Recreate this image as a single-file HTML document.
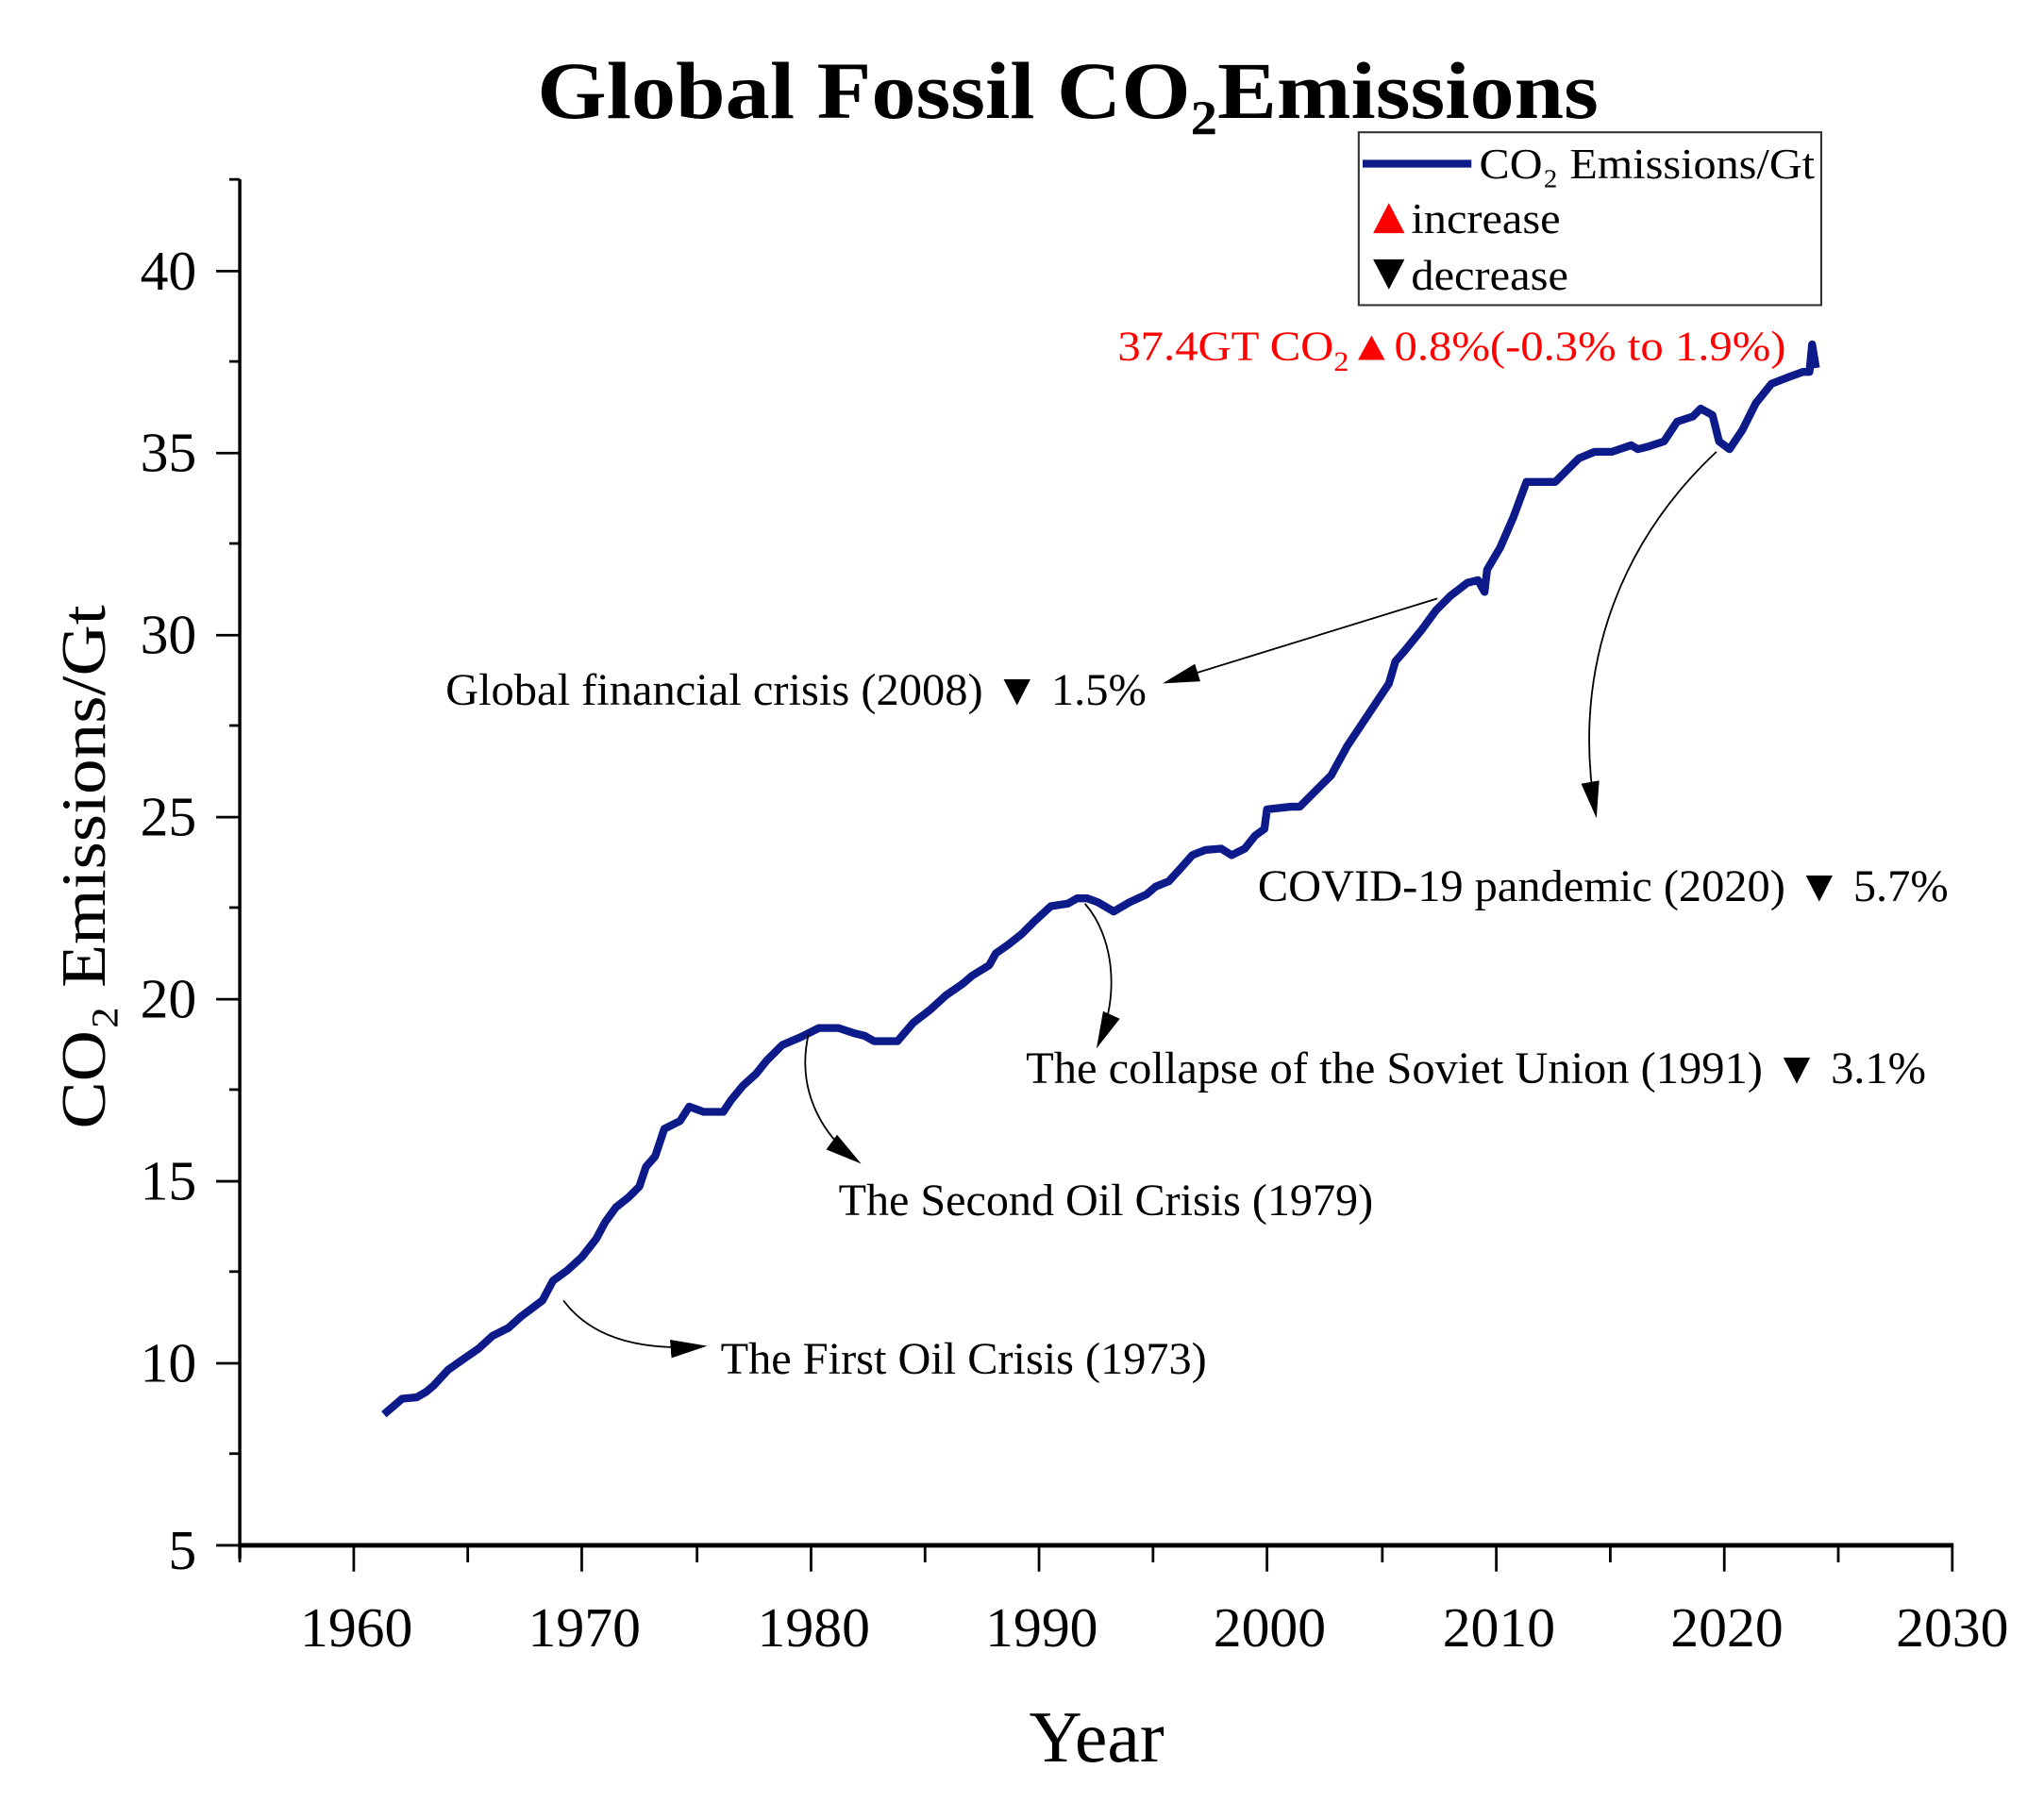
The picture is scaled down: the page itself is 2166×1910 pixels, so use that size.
<!DOCTYPE html>
<html><head><meta charset="utf-8"><style>html,body{margin:0;padding:0;background:#fff}svg{display:block}</style></head>
<body>
<svg width="2166" height="1910" viewBox="0 0 1560 1376" preserveAspectRatio="none" xmlns="http://www.w3.org/2000/svg" font-family="'Liberation Serif', serif">
<defs>
<marker id="ah2" viewBox="0 0 10 10" refX="9" refY="5" markerWidth="28" markerHeight="28" orient="auto" markerUnits="userSpaceOnUse"><path d="M0,2.5 L10,5 L0,7.5 z" fill="#000"/></marker>
</defs>
<rect width="1560" height="1376" fill="#fff"/>
<text x="815" y="90" text-anchor="middle" font-size="62" font-weight="bold" textLength="810" lengthAdjust="spacingAndGlyphs">Global Fossil CO₂Emissions</text>
<!-- axes -->
<line x1="183" y1="137" x2="183" y2="1190" stroke="#000" stroke-width="2.5"/>
<line x1="182" y1="1180" x2="1491" y2="1180" stroke="#000" stroke-width="3.5"/>
<g stroke="#000" stroke-width="2">
<line x1="165" y1="207" x2="183" y2="207"/><line x1="165" y1="346" x2="183" y2="346"/><line x1="165" y1="485" x2="183" y2="485"/><line x1="165" y1="624" x2="183" y2="624"/><line x1="165" y1="763" x2="183" y2="763"/><line x1="165" y1="902" x2="183" y2="902"/><line x1="165" y1="1041" x2="183" y2="1041"/><line x1="165" y1="1180" x2="183" y2="1180"/>
<line x1="175" y1="137" x2="183" y2="137"/><line x1="175" y1="276" x2="183" y2="276"/><line x1="175" y1="415" x2="183" y2="415"/><line x1="175" y1="554" x2="183" y2="554"/><line x1="175" y1="693" x2="183" y2="693"/><line x1="175" y1="832" x2="183" y2="832"/><line x1="175" y1="971" x2="183" y2="971"/><line x1="175" y1="1110" x2="183" y2="1110"/>
<line x1="270" y1="1180" x2="270" y2="1200"/><line x1="444" y1="1180" x2="444" y2="1200"/><line x1="619" y1="1180" x2="619" y2="1200"/><line x1="793" y1="1180" x2="793" y2="1200"/><line x1="967" y1="1180" x2="967" y2="1200"/><line x1="1142" y1="1180" x2="1142" y2="1200"/><line x1="1316" y1="1180" x2="1316" y2="1200"/><line x1="1490" y1="1180" x2="1490" y2="1200"/>
<line x1="183" y1="1180" x2="183" y2="1193"/><line x1="357" y1="1180" x2="357" y2="1193"/><line x1="532" y1="1180" x2="532" y2="1193"/><line x1="706" y1="1180" x2="706" y2="1193"/><line x1="880" y1="1180" x2="880" y2="1193"/><line x1="1055" y1="1180" x2="1055" y2="1193"/><line x1="1229" y1="1180" x2="1229" y2="1193"/><line x1="1403" y1="1180" x2="1403" y2="1193"/>
</g>
<g font-size="43" text-anchor="end">
<text x="150" y="221">40</text><text x="150" y="360">35</text><text x="150" y="499">30</text><text x="150" y="638">25</text><text x="150" y="777">20</text><text x="150" y="916">15</text><text x="150" y="1055">10</text><text x="150" y="1198">5</text>
</g>
<g font-size="43" text-anchor="middle">
<text x="272" y="1257">1960</text><text x="446" y="1257">1970</text><text x="621" y="1257">1980</text><text x="795" y="1257">1990</text><text x="969" y="1257">2000</text><text x="1144" y="1257">2010</text><text x="1318" y="1257">2020</text><text x="1490" y="1257">2030</text>
</g>
<text x="837" y="1345" text-anchor="middle" font-size="56">Year</text>
<text transform="translate(80,662) rotate(-90)" text-anchor="middle" font-size="48" textLength="400" lengthAdjust="spacingAndGlyphs">CO₂ Emissions/Gt</text>
<!-- data -->
<polyline fill="none" stroke="#0d1a8a" stroke-width="6" stroke-linejoin="round" points="293,1080 300,1074 307,1068 318,1067 325,1063 331,1058 342,1046 352,1039 365,1030 376,1020 388,1014 398,1005 414,993 422,978 433,970 444,960 455,946 462,933 470,922 480,914 488,906 493,891 500,883 507,862 519,856 526,845 537,849 552,849 558,840 567,829 577,820 585,810 597,798 611,792 625,785 640,785 652,789 660,791 667,795 685,795 697,781 710,771 722,760 735,751 742,745 755,737 760,728 770,721 780,713 790,703 802,692 815,690 822,686 830,686 838,689 850,696 862,689 875,683 882,677 892,673 902,662 910,653 920,649 932,648 940,653 950,648 958,638 965,633 967,618 985,616 992,616 1000,608 1010,598 1016,592 1028,570 1040,552 1052,534 1060,522 1065,505 1072,497 1085,481 1096,466 1107,455 1120,445 1128,443 1133,452 1135,435 1145,418 1155,395 1165,368 1180,368 1187,368 1195,360 1205,350 1217,345 1230,345 1245,340 1250,343 1258,341 1270,337 1280,322 1292,318 1298,312 1307,317 1312,337 1320,343 1330,328 1340,308 1352,293 1365,288 1376,284 1381,284 1383,263 1386,281"/>
<!-- annotations -->
<g fill="none" stroke="#000" stroke-width="1.3">
<path d="M1097,457 L890,521" marker-end="url(#ah2)"/>
<path d="M1310,345 C1230,420 1200,520 1218,622" marker-end="url(#ah2)"/>
<path d="M828,690 C850,715 855,760 838,798" marker-end="url(#ah2)"/>
<path d="M617,790 C608,830 625,865 655,887" marker-end="url(#ah2)"/>
<path d="M430,993 C450,1020 485,1032 537,1028" marker-end="url(#ah2)"/>
</g>
<g font-size="34" lengthAdjust="spacingAndGlyphs">
<text x="340" y="538" textLength="535" lengthAdjust="spacingAndGlyphs">Global financial crisis (2008) ▼ 1.5%</text>
<text x="960" y="688" textLength="527" lengthAdjust="spacingAndGlyphs">COVID-19 pandemic (2020) ▼ 5.7%</text>
<text x="783" y="827" textLength="687" lengthAdjust="spacingAndGlyphs">The collapse of the Soviet Union (1991) ▼ 3.1%</text>
<text x="640" y="928" textLength="408" lengthAdjust="spacingAndGlyphs">The Second Oil Crisis (1979)</text>
<text x="550" y="1049" textLength="371" lengthAdjust="spacingAndGlyphs">The First Oil Crisis (1973)</text>
</g>
<text x="853" y="275" font-size="32" fill="#ff0000" textLength="510" lengthAdjust="spacingAndGlyphs">37.4GT CO<tspan font-size="21" dy="8">2</tspan><tspan dy="-8">▲0.8%(-0.3% to 1.9%)</tspan></text>
<!-- legend -->
<rect x="1037" y="101" width="353" height="132" fill="#fff" stroke="#333" stroke-width="1.5"/>
<line x1="1040" y1="125" x2="1123" y2="125" stroke="#0d1a8a" stroke-width="6"/>
<text x="1129" y="136" font-size="33" textLength="256" lengthAdjust="spacingAndGlyphs">CO₂ Emissions/Gt</text>
<path d="M1048,178 L1060,155 L1072,178 z" fill="#ff0000"/>
<text x="1077" y="178" font-size="33" textLength="114" lengthAdjust="spacingAndGlyphs">increase</text>
<path d="M1048,198 L1072,198 L1060,221 z" fill="#000"/>
<text x="1077" y="221" font-size="33" textLength="120" lengthAdjust="spacingAndGlyphs">decrease</text>
</svg>
</body></html>
